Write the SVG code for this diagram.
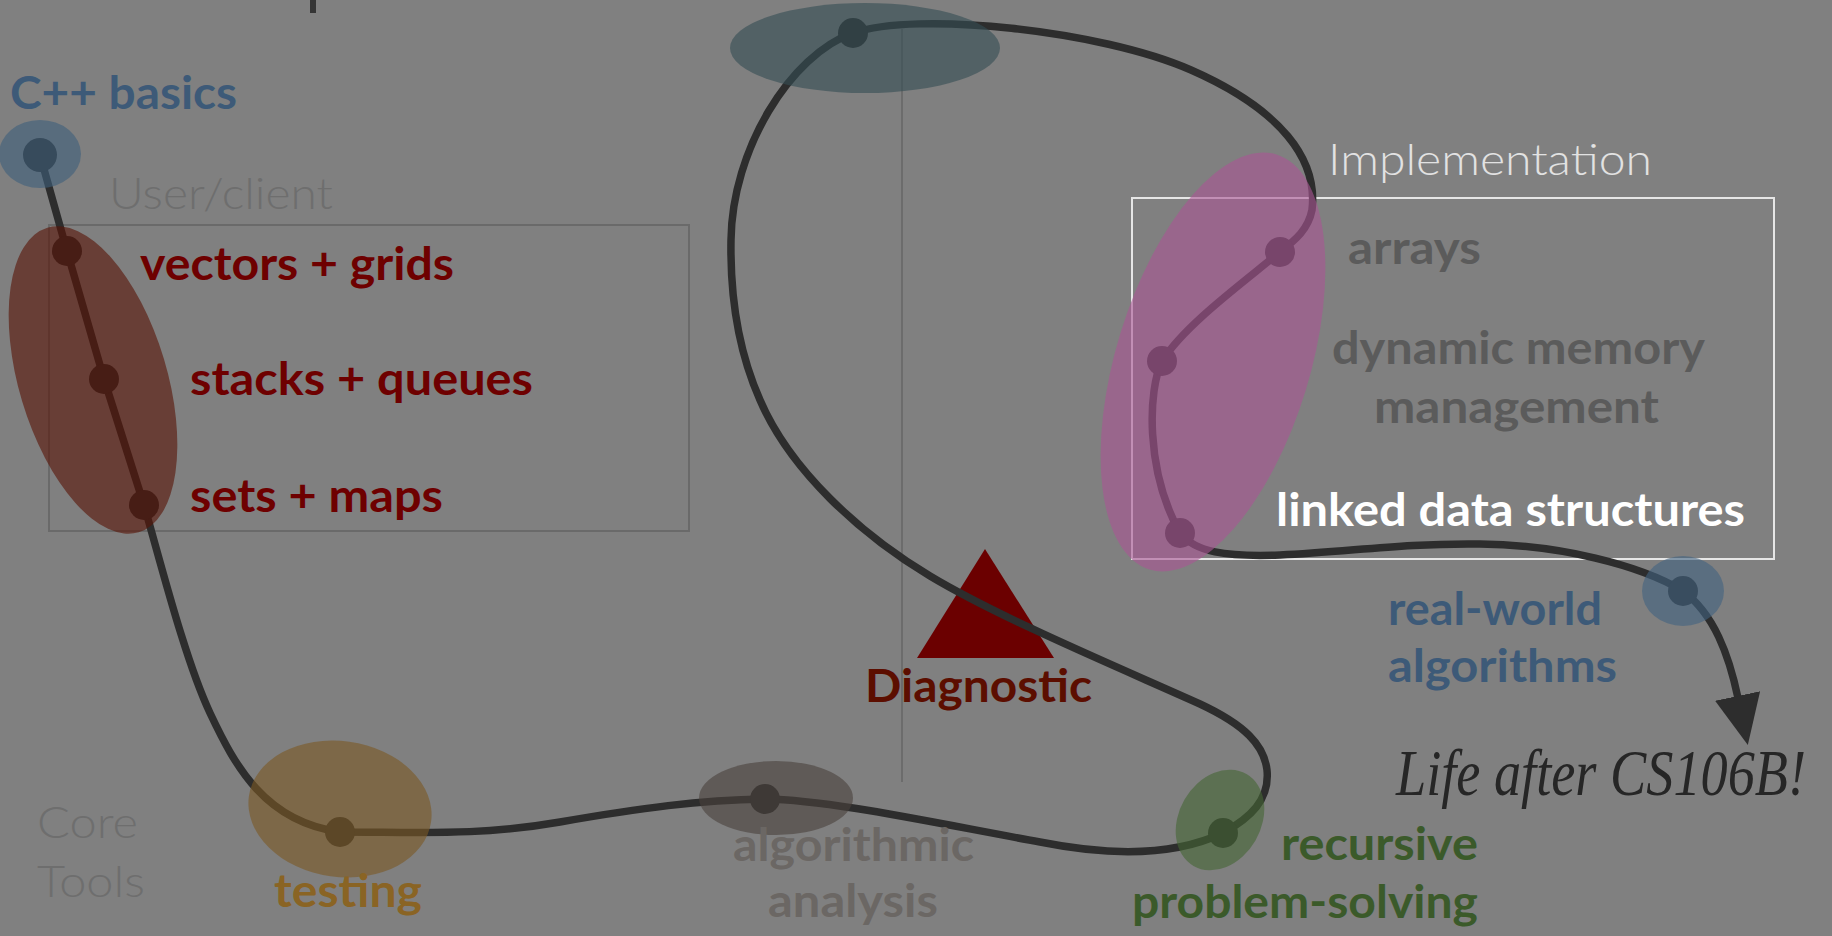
<svg xmlns="http://www.w3.org/2000/svg" width="1832" height="936" viewBox="0 0 1832 936">
  <defs>
    <style>
      .bg { fill: #808080; }
      .b { font-family: Lato, "Liberation Sans", sans-serif; font-weight: 700; font-size: 45px; }
      .l { font-family: Lato, "Open Sans", "Liberation Sans", sans-serif; font-weight: 300; font-size: 44px; fill: #6e6e6e; }
      .hand { font-family: "Liberation Serif", serif; font-style: italic; font-size: 55px; fill: #262626; }
      .path { fill: none; stroke: #2d2d2d; stroke-width: 7.5; stroke-linecap: round; stroke-linejoin: round; }
      .dot { fill: #2d2d2d; }
      .halo { fill-opacity: 0.6; }
      .blue { fill: #3d5a78; }
      .red { fill: #6e0000; }
      .gray { fill: #5b5b5b; }
      .green { fill: #3b5a2a; }
    </style>
    <marker id="arrow" viewBox="0 0 50 46" refX="2" refY="23" markerWidth="50" markerHeight="46" markerUnits="userSpaceOnUse" orient="auto">
      <path d="M0,0 L50,23 L0,46 z" fill="#2d2d2d"/>
    </marker>
  </defs>

  <rect class="bg" x="0" y="0" width="1832" height="936"/>
  <rect x="310" y="0" width="6" height="13" fill="#353535"/>

  <g id="user-client-area">
    <rect x="49" y="225" width="640" height="306" fill="none" stroke="#6a6a6a" stroke-width="2"/>
    <text class="l" x="109" y="209" font-size="42" textLength="224" lengthAdjust="spacingAndGlyphs">User/client</text>
  </g>

  <g id="implementation-area">
    <rect x="1132" y="198" width="642" height="361" fill="none" stroke="#e6e6e6" stroke-width="2"/>
    <text class="l" x="1328" y="175" style="fill:#e2e2e2" textLength="324" lengthAdjust="spacingAndGlyphs">Implementation</text>
  </g>

  <g id="core-tools-area">
    <text class="l" x="37" y="838" textLength="101" lengthAdjust="spacingAndGlyphs">Core</text>
    <text class="l" x="37" y="897" textLength="108" lengthAdjust="spacingAndGlyphs">Tools</text>
  </g>

  <line x1="902" y1="29" x2="902" y2="782" stroke="#666666" stroke-width="1.5"/>

  <g id="diagnostic">
    <polygon points="985,549 917,658 1054,658" fill="#6b0000"/>
    <text class="b" x="865" y="702" fill="#5c0e00" textLength="227" lengthAdjust="spacingAndGlyphs">Diagnostic</text>
  </g>

  <g id="connectors">
    <path class="path" d="M40,155 L67,251 L104,379 L144,505 C160,560 185,660 210,713 C235,766 265,822 340,832 C420,832 480,836 560,822 C640,808 700,800 765,799 C830,800 930,822 1040,842 C1100,854 1170,858 1223,833 C1250,818 1270,800 1267,770 C1264,745 1245,725 1200,704 C1120,668 1000,618 930,576 C860,534 790,470 760,400 C740,355 730,300 731,240 C732,150 790,55 853,33 C916,11 1100,30 1191,70 C1282,110 1318,160 1312,210 C1308,230 1295,240 1280,252 C1240,285 1185,325 1162,361 C1148,390 1145,470 1180,533 C1195,552 1225,557 1280,555 C1350,552 1400,543 1480,544 C1560,545 1640,565 1683,591"/>
    <path class="path" d="M1683,591 C1714,614 1729,655 1738,698" marker-end="url(#arrow)"/>
  </g>

  <g id="cpp-basics">
    <circle class="dot" cx="40" cy="155" r="17"/>
    <ellipse class="halo" cx="40" cy="154" rx="41" ry="34" fill="#3d5f7b"/>
    <text class="b blue" x="10" y="109" textLength="227" lengthAdjust="spacingAndGlyphs">C++ basics</text>
  </g>

  <g id="adts">
    <g id="vectors-grids">
      <circle class="dot" cx="67" cy="251" r="15"/>
      <text class="b red" x="140" y="280" textLength="314" lengthAdjust="spacingAndGlyphs">vectors + grids</text>
    </g>
    <g id="stacks-queues">
      <circle class="dot" cx="104" cy="379" r="15"/>
      <text class="b red" x="190" y="395" textLength="343" lengthAdjust="spacingAndGlyphs">stacks + queues</text>
    </g>
    <g id="sets-maps">
      <circle class="dot" cx="144" cy="505" r="15"/>
      <text class="b red" x="190" y="512" textLength="253" lengthAdjust="spacingAndGlyphs">sets + maps</text>
    </g>
    <ellipse class="halo" cx="93" cy="380" rx="74" ry="159" transform="rotate(-16.7 93 380)" fill="#581205"/>
  </g>

  <g id="testing">
    <circle class="dot" cx="340" cy="832" r="15"/>
    <ellipse class="halo" cx="340" cy="809" rx="92" ry="68" transform="rotate(8 340 809)" fill="#7b5823"/>
    <text class="b" x="274" y="907" fill="#8a6424" textLength="148" lengthAdjust="spacingAndGlyphs">testing</text>
  </g>

  <g id="algorithmic-analysis">
    <circle class="dot" cx="765" cy="799" r="15"/>
    <ellipse class="halo" cx="776" cy="798" rx="77" ry="37" fill="#49413c"/>
    <text class="b" x="733" y="861" fill="#6b6764" textLength="241" lengthAdjust="spacingAndGlyphs">algorithmic</text>
    <text class="b" x="768" y="917" fill="#6b6764" textLength="170" lengthAdjust="spacingAndGlyphs">analysis</text>
  </g>

  <g id="recursive-problem-solving">
    <circle class="dot" cx="1223" cy="833" r="15"/>
    <ellipse class="halo" cx="1220" cy="820" rx="41" ry="53" transform="rotate(30 1220 820)" fill="#446533"/>
    <text class="b green" x="1281" y="860" textLength="197" lengthAdjust="spacingAndGlyphs">recursive</text>
    <text class="b green" x="1132" y="918" textLength="346" lengthAdjust="spacingAndGlyphs">problem-solving</text>
  </g>

  <g id="top-node">
    <circle class="dot" cx="853" cy="33" r="15"/>
    <ellipse class="halo" cx="865" cy="48" rx="135" ry="45" fill="#334c53"/>
  </g>

  <g id="implementation-topics">
    <g id="arrays">
      <circle class="dot" cx="1280" cy="252" r="15"/>
      <text class="b gray" x="1348" y="264" textLength="133" lengthAdjust="spacingAndGlyphs">arrays</text>
    </g>
    <g id="dynamic-memory">
      <circle class="dot" cx="1162" cy="361" r="15"/>
      <text class="b gray" x="1332" y="364" textLength="373" lengthAdjust="spacingAndGlyphs">dynamic memory</text>
      <text class="b gray" x="1374" y="423" textLength="285" lengthAdjust="spacingAndGlyphs">management</text>
    </g>
    <g id="linked-data-structures">
      <circle class="dot" cx="1180" cy="533" r="15"/>
      <text class="b" x="1276" y="526" fill="#ffffff" textLength="469" lengthAdjust="spacingAndGlyphs">linked data structures</text>
    </g>
    <ellipse class="halo" cx="1213" cy="362" rx="97" ry="217" transform="rotate(17 1213 362)" fill="#aa5594"/>
  </g>

  <g id="real-world-algorithms">
    <circle class="dot" cx="1683" cy="591" r="15"/>
    <ellipse class="halo" cx="1683" cy="591" rx="41" ry="35" fill="#416280"/>
    <text class="b blue" x="1388" y="625" textLength="214" lengthAdjust="spacingAndGlyphs">real-world</text>
    <text class="b blue" x="1388" y="682" textLength="229" lengthAdjust="spacingAndGlyphs">algorithms</text>
  </g>

  <g id="life-after">
    <text class="hand" transform="translate(1396 795) scale(1 1.2)" x="0" y="0" textLength="410" lengthAdjust="spacingAndGlyphs">Life after CS106B!</text>
  </g>
</svg>
